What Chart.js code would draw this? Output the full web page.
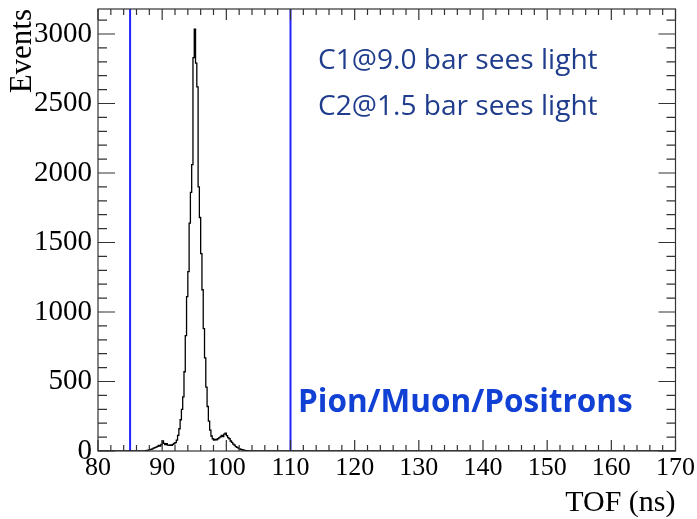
<!DOCTYPE html>
<html>
<head>
<meta charset="utf-8">
<script src="https://cdn.jsdelivr.net/npm/chart.js@4.4.0/dist/chart.umd.min.js"></script>
<style>
  html, body { margin: 0; padding: 0; background: #fff; }
</style>
</head>
<body>
<canvas id="tof" width="697" height="519"></canvas>
<script>
// TOF histogram, 0.2 ns bins starting at 87.0 ns (everything else is empty)
const binStart = 87.0;
const binWidth = 0.2;
const counts = [
  0, 0, 2, 4, 7, 10, 12, 15, 20, 24,
  28, 33, 40, 36, 48, 72, 55, 46, 52, 42,
  40, 44, 41, 47, 54, 60, 78, 112, 160, 225,
  300, 390, 570, 830, 1110, 1290, 1640, 1860, 2060, 2830,
  3035, 2790, 2620, 1900, 1680, 1420, 1160, 880, 670, 460,
  320, 215, 150, 108, 88, 78, 84, 80, 88, 95,
  102, 112, 104, 122, 128, 110, 96, 88, 72, 62,
  50, 42, 32, 26, 20, 16, 12, 9, 6, 4,
  3, 2, 1, 0
];
const xRange = [80, 170];
const yRange = [0, 3180];
const xTicks = [80, 90, 100, 110, 120, 130, 140, 150, 160, 170];
const yTicks = [0, 500, 1000, 1500, 2000, 2500, 3000];
const cutLines = [85, 110];
const notes = ["C1@9.0 bar sees light", "C2@1.5 bar sees light"];
const particleLabel = "Pion/Muon/Positrons";

const histPoints = [{ x: xRange[0], y: 0 }];
counts.forEach((c, i) => histPoints.push({ x: binStart + i * binWidth, y: c }));
histPoints.push({ x: binStart + counts.length * binWidth, y: 0 });
histPoints.push({ x: xRange[1], y: 0 });

const cutDatasets = cutLines.map((v) => ({
  data: [{ x: v, y: yRange[0] }, { x: v, y: yRange[1] }],
  borderColor: "#2222ff",
  borderWidth: 2,
  pointRadius: 0,
}));

const serif = "'Liberation Serif', 'Times New Roman', serif";

// frame with ROOT-style inward ticks, plus the text notes
const framePlugin = {
  id: "frame",
  afterDatasetsDraw(chart) {
    const { ctx, chartArea: a, scales } = chart;
    const xs = scales.x, ys = scales.y;
    ctx.save();
    ctx.strokeStyle = "#333";
    ctx.lineWidth = 1.2;
    ctx.strokeRect(a.left, a.top, a.right - a.left, a.bottom - a.top);
    ctx.beginPath();
    for (let v = xRange[0]; v <= xRange[1]; v += 2) {
      const px = xs.getPixelForValue(v);
      const len = v % 10 === 0 ? 11 : 6;
      ctx.moveTo(px, a.bottom); ctx.lineTo(px, a.bottom - len);
      ctx.moveTo(px, a.top); ctx.lineTo(px, a.top + len);
    }
    for (let v = 0; v <= yRange[1]; v += 100) {
      const py = ys.getPixelForValue(v);
      const len = v % 500 === 0 ? 17 : 9;
      ctx.moveTo(a.left, py); ctx.lineTo(a.left + len, py);
      ctx.moveTo(a.right, py); ctx.lineTo(a.right - len, py);
    }
    ctx.stroke();

    // notes
    const fit = (text, weight, width) => {
      ctx.font = weight + " 20px 'Open Sans'";
      return 20 * width / ctx.measureText(text).width;
    };
    ctx.textAlign = "left";
    ctx.textBaseline = "middle";
    ctx.fillStyle = "#1f3d8c";
    const s1 = fit(notes[0], "normal", 280);
    ctx.font = "normal " + s1.toFixed(1) + "px 'Open Sans'";
    ctx.fillText(notes[0], 318, 61);
    ctx.fillText(notes[1], 318, 107);
    ctx.fillStyle = "#1141d4";
    const s2 = fit(particleLabel, "bold", 335);
    ctx.font = "bold " + s2.toFixed(1) + "px 'Open Sans'";
    ctx.fillText(particleLabel, 298, 403);
    ctx.restore();
  },
};

new Chart(document.getElementById("tof"), {
  type: "line",
  data: {
    datasets: [
      {
        data: histPoints,
        borderColor: "#000",
        borderWidth: 1.3,
        stepped: "before",
        pointRadius: 0,
      },
      ...cutDatasets,
    ],
  },
  options: {
    responsive: false,
    animation: false,
    layout: { padding: { top: 9, right: 21, left: 0, bottom: 0 } },
    plugins: { legend: { display: false }, tooltip: { enabled: false } },
    scales: {
      x: {
        type: "linear",
        min: xRange[0],
        max: xRange[1],
        afterBuildTicks: (scale) => { scale.ticks = xTicks.map((v) => ({ value: v })); },
        grid: { display: false, drawTicks: false },
        border: { display: false },
        ticks: {
          autoSkip: false,
          maxRotation: 0,
          padding: 2,
          color: "#000",
          font: { family: serif, size: 26 },
          callback: (v) => String(v),
        },
        title: {
          display: true,
          text: "TOF (ns)",
          align: "end",
          color: "#000",
          font: { family: serif, size: 30, lineHeight: 1 },
          padding: { top: 0, bottom: 1 },
        },
        afterFit: (scale) => { scale.height = 68; },
      },
      y: {
        min: yRange[0],
        max: yRange[1],
        afterBuildTicks: (scale) => { scale.ticks = yTicks.map((v) => ({ value: v })); },
        grid: { display: false, drawTicks: false },
        border: { display: false },
        ticks: {
          autoSkip: false,
          padding: 6,
          color: "#000",
          font: { family: serif, size: 29 },
          callback: (v) => String(v),
        },
        title: {
          display: true,
          text: "Events",
          align: "end",
          color: "#000",
          font: { family: serif, size: 31, lineHeight: 1 },
          padding: { top: 7.5, bottom: 0 },
        },
        afterFit: (scale) => {
          scale.width = 98;
          scale.paddingTop = 0;
          scale.paddingBottom = 0;
        },
      },
    },
  },
  plugins: [framePlugin],
});
</script>
</body>
</html>
